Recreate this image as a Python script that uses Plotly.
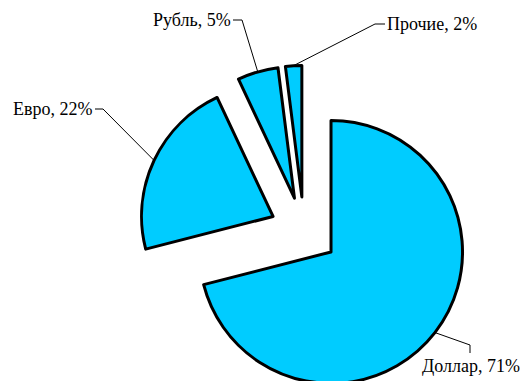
import math
import plotly.graph_objects as go

# Currency structure, percent
currencies = ["Доллар", "Евро", "Рубль", "Прочие"]
shares = [71, 22, 5, 2]

# Canvas and pie geometry (pixels, origin top-left)
W, H = 524, 400
CX, CY = 304, 231
R = 131.5
PULL = 0.26
FILL = "#00CCFF"
FONT = dict(family="Liberation Serif", size=18, color="black")

# Label placement: knee of the leader line, its end next to the text, text anchor
label_layout = {
    "Доллар": dict(knee=(470, 345), end=(470, 353), text=(471, 355), xanchor="center", yanchor="top"),
    "Евро": dict(knee=(103, 109), end=(95, 109), text=(94, 109), xanchor="right", yanchor="middle"),
    "Рубль": dict(knee=(242, 20), end=(233, 20), text=(232, 20), xanchor="right", yanchor="middle"),
    "Прочие": dict(knee=(375, 24), end=(385, 24), text=(386, 24), xanchor="left", yanchor="middle"),
}


def px(x, y):
    return x / W, 1 - y / H


half = R * (1 + PULL)
domain_x = [(CX - half) / W, (CX + half) / W]
domain_y = [1 - (CY + half) / H, 1 - (CY - half) / H]

fig = go.Figure(
    go.Pie(
        labels=currencies,
        values=shares,
        sort=False,
        direction="clockwise",
        rotation=0,
        pull=[PULL] * len(shares),
        marker=dict(colors=[FILL] * len(shares), line=dict(color="black", width=3)),
        textinfo="none",
        hoverinfo="none",
        showlegend=False,
        domain=dict(x=domain_x, y=domain_y),
    )
)

shapes = []
annotations = []
total = sum(shares)
cum = 0
for name, v in zip(currencies, shares):
    theta = math.radians(360 * (cum + v / 2) / total)
    cum += v
    dx, dy = math.sin(theta), -math.cos(theta)
    # point on the outer arc of the exploded slice, on its bisector
    ax, ay = CX + half * dx, CY + half * dy
    lay = label_layout[name]
    p0, p1, p2 = px(ax, ay), px(*lay["knee"]), px(*lay["end"])
    shapes.append(dict(
        type="path", xref="paper", yref="paper",
        path=f"M {p0[0]},{p0[1]} L {p1[0]},{p1[1]} L {p2[0]},{p2[1]}",
        line=dict(color="black", width=1),
    ))
    tx, ty = px(*lay["text"])
    annotations.append(dict(
        x=tx, y=ty, xref="paper", yref="paper",
        text=f"{name}, {v}%", showarrow=False,
        xanchor=lay["xanchor"], yanchor=lay["yanchor"],
        font=FONT, borderpad=0,
    ))

fig.update_layout(
    width=W, height=H,
    margin=dict(l=0, r=0, t=0, b=0),
    paper_bgcolor="white",
    plot_bgcolor="white",
    shapes=shapes,
    annotations=annotations,
)

fig.write_html(
    "out.html",
    post_script="document.documentElement.style.overflow='hidden';document.body.style.overflow='hidden';",
)
